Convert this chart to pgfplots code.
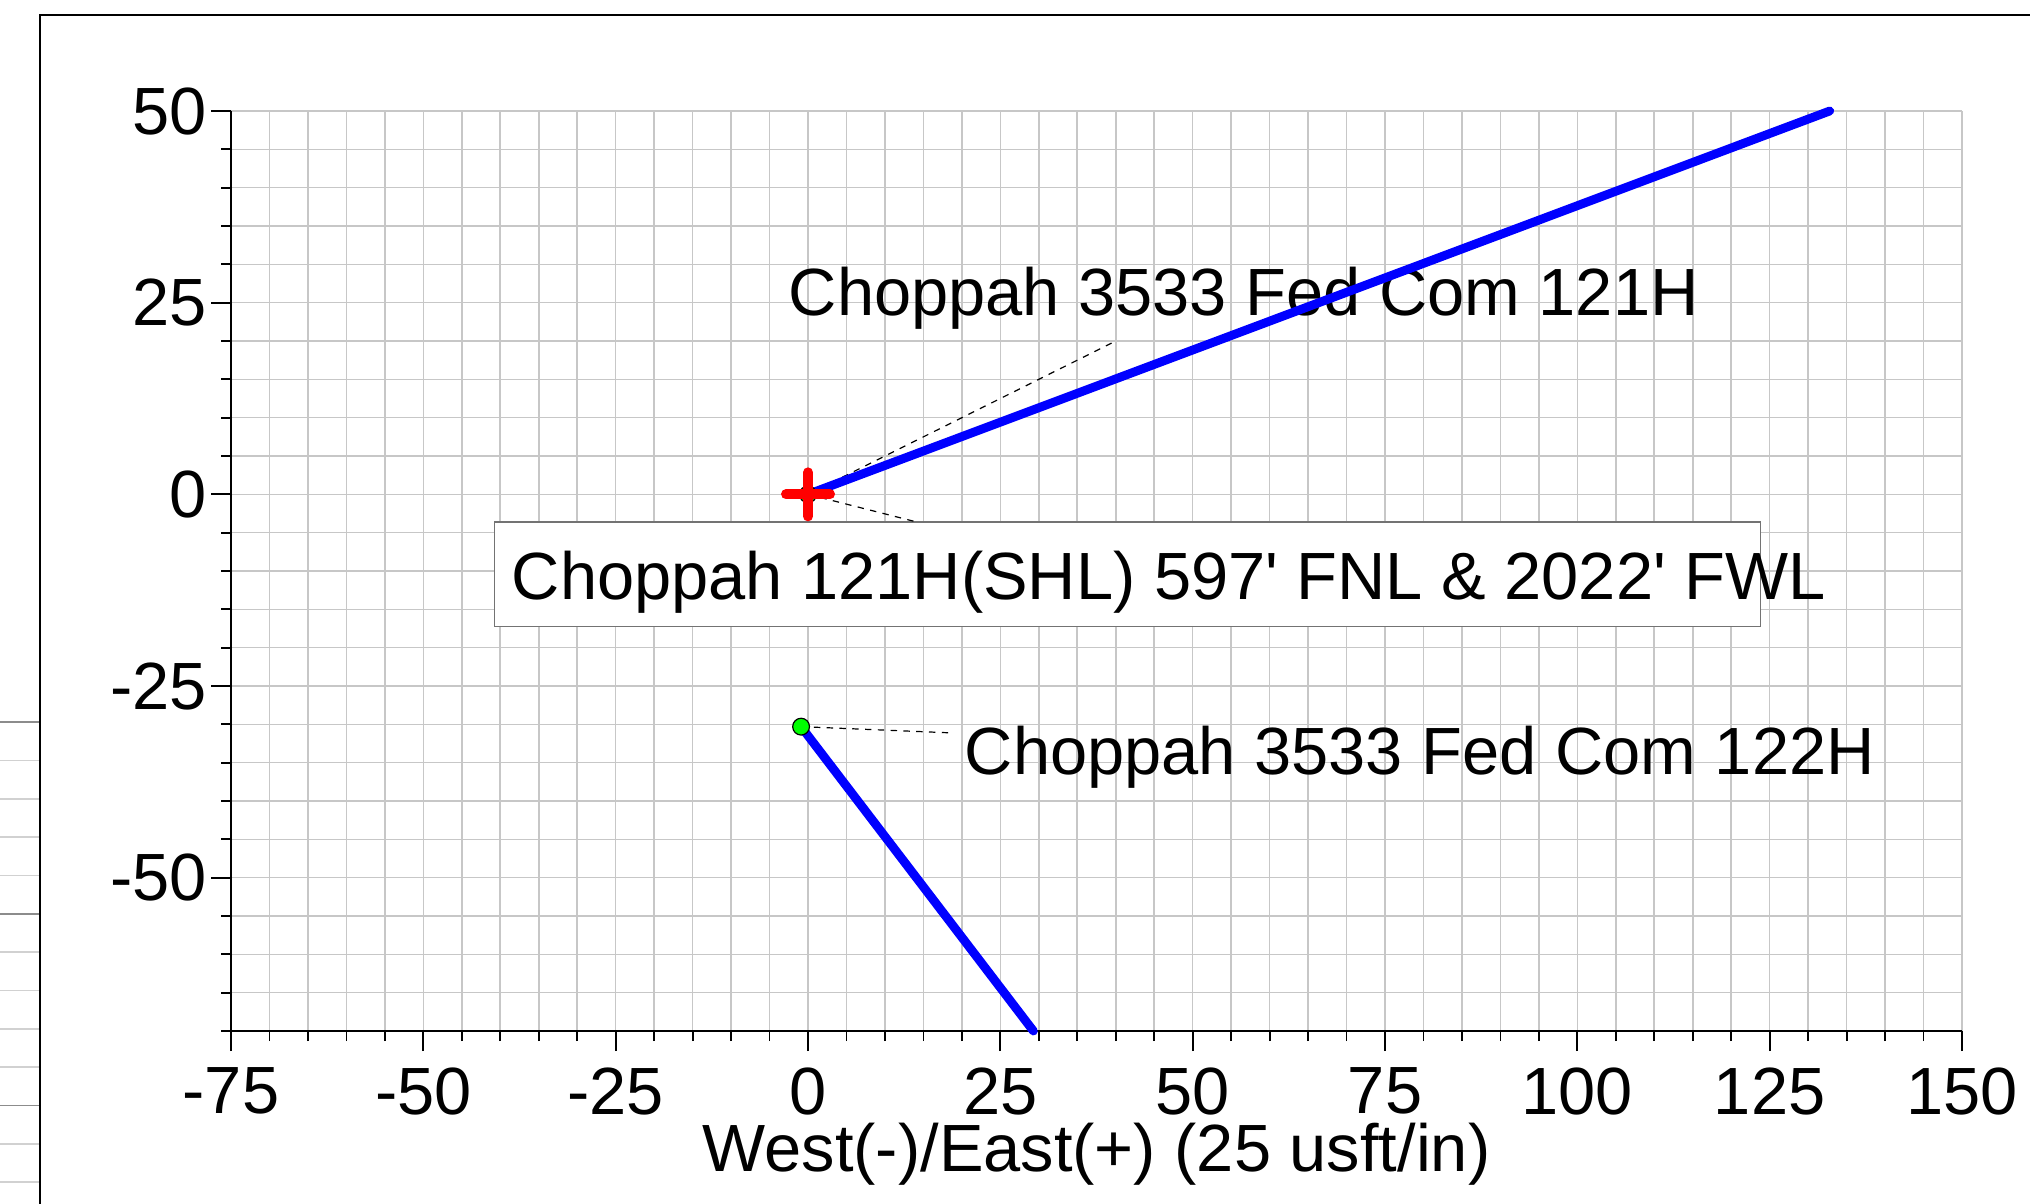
\documentclass[border=0pt]{standalone}
\usepackage{fontspec}
\setmainfont{Liberation Sans}
\newfontfamily\arialf{Liberation Sans}
\usepackage{pgfplots}
\pgfplotsset{compat=1.18}
\begin{document}
\begin{tikzpicture}
\begin{scope}
\clip (0,0) rectangle (507.5pt,300.75pt);
\begin{scope}[x=0.25pt,y=0.25pt]
  % partial neighbouring grid at the far left
  \foreach \k in {1,2,3,4,6,7,8,9,11,12}
    \draw[black!18, line width=0.4pt] (0,{1203-722.2-38.32*\k}) -- (40,{1203-722.2-38.32*\k});
  \foreach \k in {0,5,10}
    \draw[black!45, line width=0.4pt] (0,{1203-722.2-38.32*\k}) -- (40,{1203-722.2-38.32*\k});
  % outer frame
  \draw[black, line width=0.5pt] (40,-20) -- (40,1188) -- (2100,1188);
\end{scope}
\begin{axis}[
  at={(57.75pt,43pt)}, anchor=south west,
  scale only axis, width=432.75pt, height=230pt,
  xmin=-75, xmax=150, ymin=-70, ymax=50,
  xtick={-75,-50,-25,0,25,50,75,100,125,150},
  ytick={-50,-25,0,25,50},
  minor xtick={-75,-70,...,150},
  minor ytick={-70,-65,...,50},
  grid=both,
  major grid style={color=black!22, line width=0.4pt},
  minor grid style={color=black!22, line width=0.4pt},
  axis lines*=left,
  axis line style={-, black, line width=0.55pt},
  tick align=outside,
  xtick pos=left, ytick pos=left,
  major tick length=5pt, minor tick length=2.5pt,
  every tick/.style={black, line width=0.45pt},
  /pgf/number format/assume math mode=true,
  ticklabel style={font=\fontsize{16.7}{20}\selectfont},
  xticklabel style={inner sep=0pt, yshift=-4pt},
  yticklabel style={inner sep=0.85pt},
  xlabel={West(-)/East(+) (25 usft/in)},
  xlabel style={font=\fontsize{16.7}{20}\selectfont, at={(axis description cs:0.5,-0.153)}, anchor=base, inner sep=0pt},
  clip=false,
]
% annotation box for the surface location
\draw[black!55, line width=0.4pt, fill=white] (axis cs:-40.75,-3.57) rectangle (axis cs:123.8,-17.26);
\node[anchor=base west, inner sep=0pt, font=\fontsize{16.7}{20}\selectfont] at (axis cs:-38.6,-13.7) {\arialf Choppah 121H(SHL) 597' FNL \& 2022' FWL};
\node[anchor=base west, inner sep=0pt, font=\fontsize{16.7}{20}\selectfont] at (axis cs:-2.6,23.3) {\arialf Choppah 3533 Fed Com 121H};
\node[anchor=base west, inner sep=0pt, font=\fontsize{16.7}{20}\selectfont] at (axis cs:20.3,-36.5) {\arialf Choppah 3533 Fed Com 122H};
% leader lines
\addplot[black, line width=0.3pt, dash pattern=on 1.6pt off 1.6pt] coordinates {(0,0) (40,20)};
\addplot[black, line width=0.3pt, dash pattern=on 1.6pt off 1.6pt] coordinates {(0,0) (14,-3.57)};
\addplot[black, line width=0.3pt, dash pattern=on 1.6pt off 1.6pt] coordinates {(-0.9,-30.3) (18.3,-31.1)};
% well heads
\addplot[only marks, mark=*, mark size=2.1pt, mark options={fill=green, draw=black, line width=0.3pt}] coordinates {(0,0) (-0.9,-30.3)};
\addplot[only marks, mark=+, mark size=5.5pt, mark options={red, line width=2.5pt, line cap=round}] coordinates {(0,0)};
% well paths
\addplot[blue, line width=2.2pt, line cap=round] coordinates {(0,0) (132.8,50)};
\addplot[blue, line width=2.2pt, line cap=round] coordinates {(-0.9,-30.3) (29.3,-70)};
\end{axis}
\end{scope}
\pgfresetboundingbox
\useasboundingbox (0,0) rectangle (507.5pt,300.75pt);
\end{tikzpicture}
\end{document}
